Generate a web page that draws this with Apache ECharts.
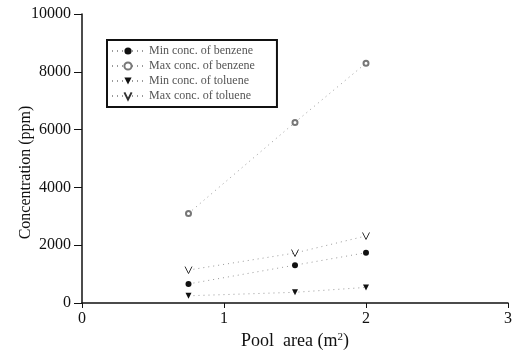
<!DOCTYPE html>
<html>
<head>
<meta charset="utf-8">
<script src="https://cdn.jsdelivr.net/npm/echarts@6/dist/echarts.min.js"></script>
<style>
  html, body { margin: 0; padding: 0; background: #fff; }
  #demo { width: 516px; height: 353px; }
</style>
</head>
<body>
<div id="demo"></div>
<script>
// pool area (m2)
var poolArea = [0.75, 1.5, 2];
var minBenzene = [660, 1310, 1740];
var maxBenzene = [3100, 6250, 8300];
var minToluene = [250, 370, 540];
var maxToluene = [1140, 1730, 2320];
var seriesNames = ['Min conc. of benzene', 'Max conc. of benzene', 'Min conc. of toluene', 'Max conc. of toluene'];
var xTicks = [0, 1, 2, 3];
var yTicks = [0, 2000, 4000, 6000, 8000, 10000];

function pairs(vals) {
    return poolArea.map(function (x, i) { return [x, vals[i]]; });
}

var serif = '"Liberation Serif", "DejaVu Serif", serif';
var dotted = { color: '#9a9a9a', width: 1, type: [1, 4] };

var option = {
    backgroundColor: '#fff',
    animation: false,
    grid: {
        left: 82,
        right: 8,
        top: 14,
        bottom: 50,
        outerBoundsMode: 'none'
    },
    legend: {
        orient: 'vertical',
        left: 107,
        top: 40,
        width: 170,
        padding: [5, 22, 5, 4],
        itemGap: 3,
        itemWidth: 32,
        itemHeight: 9,
        borderColor: '#111',
        borderWidth: 2,
        data: seriesNames,
        textStyle: { fontFamily: serif, fontSize: 12, color: '#555' }
    },
    xAxis: {
        type: 'value',
        min: 0,
        max: 3,
        interval: 1,
        name: '{t|Pool  area (m}{s|2}{t|)}',
        nameLocation: 'middle',
        nameGap: 29,
        nameMoveOverlap: false,
        nameTextStyle: {
            rich: {
                t: { fontFamily: serif, fontSize: 18, color: '#111' },
                s: { fontFamily: serif, fontSize: 11, color: '#111', verticalAlign: 'top', padding: [0, 0, 8, 0] }
            }
        },
        axisLine: { lineStyle: { color: '#111', width: 1.5 } },
        axisTick: { length: 5, lineStyle: { color: '#111' } },
        axisLabel: { fontFamily: serif, fontSize: 16, color: '#111', margin: 8 },
        splitLine: { show: false }
    },
    yAxis: {
        type: 'value',
        min: 0,
        max: 10000,
        interval: 2000,
        name: 'Concentration (ppm)',
        nameLocation: 'middle',
        nameGap: 48,
        nameMoveOverlap: false,
        nameTextStyle: { fontFamily: serif, fontSize: 16, color: '#111', padding: [0, 28, 0, 0] },
        axisLine: { show: true, lineStyle: { color: '#111', width: 1.5 } },
        axisTick: { show: true, length: 8, lineStyle: { color: '#111' } },
        axisLabel: { fontFamily: serif, fontSize: 16, color: '#111', margin: 11, formatter: function (v) { return String(v); } },
        splitLine: { show: false }
    },
    series: [
        {
            name: seriesNames[0],
            type: 'line',
            data: pairs(minBenzene),
            symbol: 'circle',
            symbolSize: 6,
            itemStyle: { color: '#111' },
            lineStyle: dotted
        },
        {
            name: seriesNames[1],
            type: 'line',
            data: pairs(maxBenzene),
            symbol: 'emptyCircle',
            symbolSize: 5,
            itemStyle: { color: '#777', borderColor: '#777', borderWidth: 1 },
            lineStyle: dotted
        },
        {
            name: seriesNames[2],
            type: 'line',
            data: pairs(minToluene),
            symbol: 'path://M0,0 L10,0 L5,10 Z',
            symbolSize: 6,
            itemStyle: { color: '#111' },
            lineStyle: dotted
        },
        {
            name: seriesNames[3],
            type: 'line',
            data: pairs(maxToluene),
            symbol: 'path://M0,0 L5,10 L10,0',
            symbolSize: 7,
            itemStyle: { color: '#fff', borderColor: '#333', borderWidth: 1 },
            lineStyle: dotted
        }
    ]
};

var myCharts = echarts.init(document.getElementById('demo'));
myCharts.setOption(option);
</script>
</body>
</html>
